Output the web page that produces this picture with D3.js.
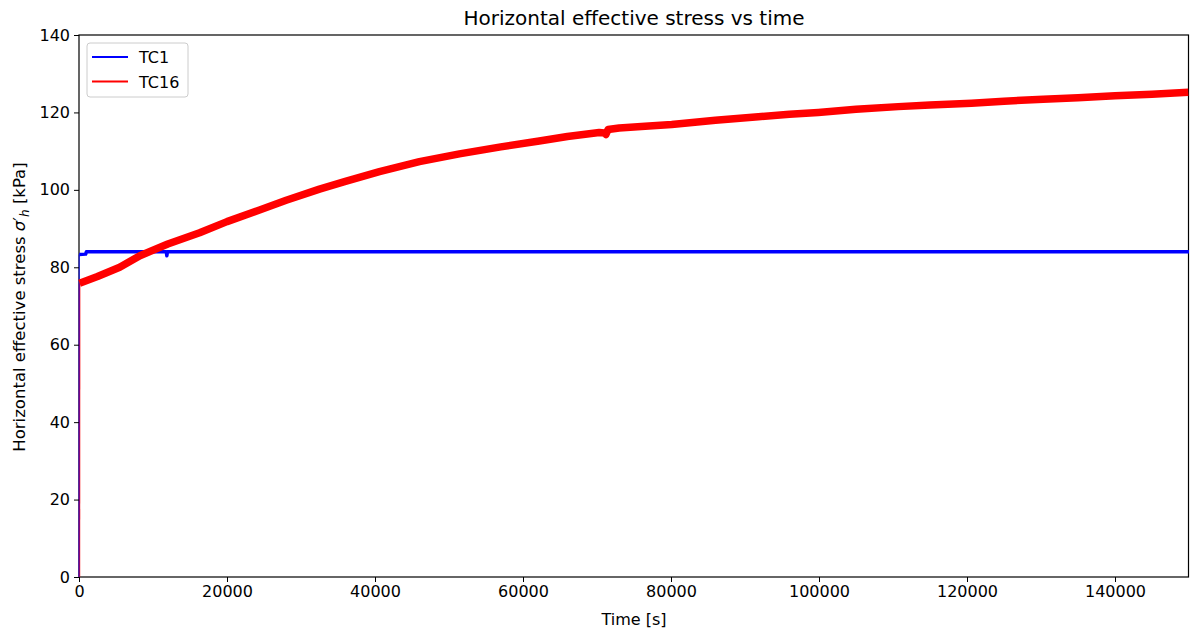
<!DOCTYPE html>
<html>
<head>
<meta charset="utf-8">
<script src="https://cdn.jsdelivr.net/npm/d3@7"></script>
<style>
  html, body { margin: 0; padding: 0; background: #fff; }
  svg { display: block; font-family: "DejaVu Sans", sans-serif; }
</style>
</head>
<body>
<svg id="chart" width="1190" height="631"></svg>
<script>
// Time stamps [s] and horizontal effective stress [kPa] for each test
const tc1Time   = [0, 30, 900, 1000, 11800, 11870, 11950, 150000];
const tc1Stress = [0, 83.3, 83.4, 84.0, 84.0, 83.0, 84.0, 84.0];

const tc16Time = [60, 80, 2500, 5500, 8230, 12000, 16300, 20000, 24400, 28000, 32500, 36000,
  40600, 46000, 51400, 57000, 62200, 66000, 70300, 71000, 71200, 71500, 73000, 76500,
  80100, 86000, 91800, 96000, 99900, 105000, 110700, 115000, 120600, 125000, 130300,
  135000, 140000, 145000, 149900];
const tc16Stress = [0, 75.9, 77.6, 80.0, 83.0, 86.0, 88.9, 91.8, 94.8, 97.3, 100.2, 102.2,
  104.7, 107.3, 109.3, 111.1, 112.6, 113.8, 114.8, 114.7, 114.3, 115.6, 116.0, 116.4,
  116.9, 118.0, 118.9, 119.5, 120.0, 120.8, 121.5, 121.9, 122.4, 122.9, 123.4,
  123.8, 124.3, 124.7, 125.2];

const xTicks = [0, 20000, 40000, 60000, 80000, 100000, 120000, 140000];
const yTicks = [0, 20, 40, 60, 80, 100, 120, 140];

const seriesNames = ["TC1", "TC16"];
const seriesColors = ["#0000ff", "#ff0000"];

const svg = d3.select("#chart");
const margin = { left: 79, right: 1, top: 35, bottom: 54 };
const W = 1190, H = 631;

const x = d3.scaleLinear().domain([0, 150000]).range([margin.left, W - margin.right]);
const y = d3.scaleLinear().domain([0, 140]).range([H - margin.bottom, margin.top]);

svg.append("defs").append("clipPath").attr("id", "plotClip")
  .append("rect")
  .attr("x", margin.left - 1).attr("y", margin.top)
  .attr("width", W - margin.right - margin.left + 1)
  .attr("height", H - margin.bottom - margin.top);

// Frame (drawn beneath the records)
svg.append("rect")
  .attr("x", margin.left).attr("y", margin.top)
  .attr("width", W - margin.right - margin.left - 0.5)
  .attr("height", H - margin.bottom - margin.top)
  .attr("fill", "none").attr("stroke", "#000").attr("stroke-width", 1.2);

const line = d3.line().x(d => x(d[0])).y(d => y(d[1]));

const plot = svg.append("g").attr("clip-path", "url(#plotClip)");

const tc1 = tc1Time.map((t, i) => [t, tc1Stress[i]]);
const tc16 = tc16Time.map((t, i) => [t, tc16Stress[i]]);

// Initial loading jumps: single samples, drawn thin
plot.append("path").datum(tc16.slice(0, 2)).attr("d", line)
  .attr("fill", "none").attr("stroke", seriesColors[1]).attr("stroke-width", 1.5);
plot.append("path").datum(tc1.slice(0, 2)).attr("d", line)
  .attr("fill", "none").attr("stroke", seriesColors[0]).attr("stroke-width", 1.5)
  .attr("stroke-opacity", 0.6);

// TC1 steady record
plot.append("path")
  .datum(tc1.slice(1))
  .attr("d", line)
  .attr("fill", "none")
  .attr("stroke", seriesColors[0])
  .attr("stroke-width", 3.5)
  .attr("stroke-linejoin", "round");

// TC16 record (noisy signal drawn as a wide band)
plot.append("path")
  .datum(tc16.slice(1))
  .attr("d", line)
  .attr("fill", "none")
  .attr("stroke", seriesColors[1])
  .attr("stroke-width", 7.5)
  .attr("stroke-linejoin", "round")
  .attr("stroke-linecap", "butt");

// Axes
const xAxis = d3.axisBottom(x).tickValues(xTicks).tickFormat(d3.format("d")).tickSize(5).tickPadding(4);
const yAxis = d3.axisLeft(y).tickValues(yTicks).tickFormat(d3.format("d")).tickSize(5).tickPadding(4);

const gx = svg.append("g").attr("transform", `translate(0,${H - margin.bottom})`).call(xAxis);
const gy = svg.append("g").attr("transform", `translate(${margin.left},0)`).call(yAxis);

[gx, gy].forEach(g => {
  g.select(".domain").remove();
  g.selectAll("line").attr("stroke", "#000").attr("stroke-width", 1);
  g.selectAll("text").attr("fill", "#000").style("font-size", "16px")
    .style("font-family", "DejaVu Sans, sans-serif");
});

// Title
svg.append("text")
  .attr("x", (margin.left + W - margin.right) / 2).attr("y", 25)
  .attr("text-anchor", "middle")
  .style("font-size", "20px")
  .text("Horizontal effective stress vs time");

// X label
svg.append("text")
  .attr("x", (margin.left + W - margin.right) / 2).attr("y", 625)
  .attr("text-anchor", "middle")
  .style("font-size", "16px")
  .text("Time [s]");

// Y label with σ'_h
const yl = svg.append("text")
  .attr("transform", `translate(25,${(margin.top + H - margin.bottom) / 2 + 1}) rotate(-90)`)
  .attr("text-anchor", "middle")
  .style("font-size", "16.5px");
yl.append("tspan").text("Horizontal effective stress ");
yl.append("tspan").attr("font-style", "italic").text("σ");
yl.append("tspan").text("′");
yl.append("tspan").attr("font-style", "italic").attr("font-size", "12px").attr("dy", 4).text("h");
yl.append("tspan").attr("dy", -4).text(" [kPa]");

// Legend
const lg = svg.append("g");
lg.append("rect")
  .attr("x", 87).attr("y", 43).attr("width", 101).attr("height", 54)
  .attr("rx", 3).attr("fill", "#fff").attr("fill-opacity", 0.8)
  .attr("stroke", "#cccccc").attr("stroke-width", 1);
seriesNames.forEach((name, i) => {
  const yy = 57 + i * 24.5;
  lg.append("line").attr("x1", 92).attr("x2", 128).attr("y1", yy).attr("y2", yy)
    .attr("stroke", seriesColors[i]).attr("stroke-width", 2.2);
  lg.append("text").attr("x", 139).attr("y", yy + 6)
    .style("font-size", "16px").text(name);
});
</script>
</body>
</html>
